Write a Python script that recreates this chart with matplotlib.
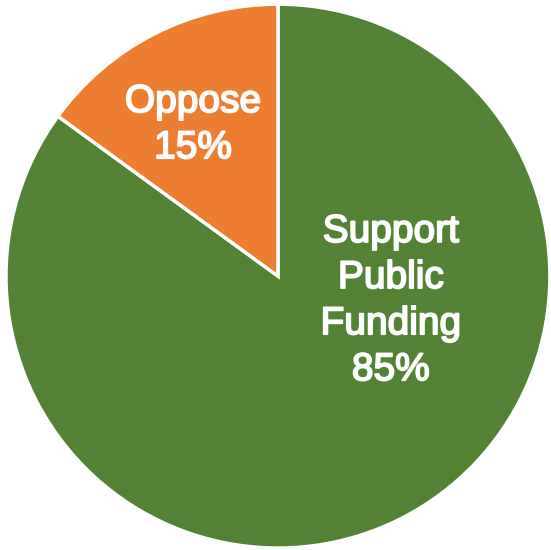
import matplotlib.pyplot as plt
import matplotlib.patheffects as pe

labels = ["Support\nPublic\nFunding", "Oppose"]
shares = [85, 15]
colors = ["#548235", "#ED7D31"]

plt.rcParams['font.family'] = ['Liberation Sans', 'DejaVu Sans']

fig = plt.figure(figsize=(5.51, 5.50), dpi=100)
ax = fig.add_axes([0, 0, 1, 1])

wedges, _ = ax.pie(shares, colors=colors, startangle=90, counterclock=False,
                   wedgeprops=dict(edgecolor="white", linewidth=2.5))

# labels placed inside each slice; regular face thickened a little with a stroke
label_pos = [(0.415, -0.092), (-0.3125, 0.555)]
for lab, val, (x, y) in zip(labels, shares, label_pos):
    ax.text(x, y, f"{lab}\n{val}%", ha="center", va="center", color="white",
            fontsize=28, linespacing=1.36,
            path_effects=[pe.withStroke(linewidth=1.3, foreground="white")])

ax.set_xlim(-1.022, 1.004)
ax.set_ylim(-1.007, 1.015)
ax.set_aspect("equal")
ax.axis("off")

fig.savefig("out.png", dpi=100)
